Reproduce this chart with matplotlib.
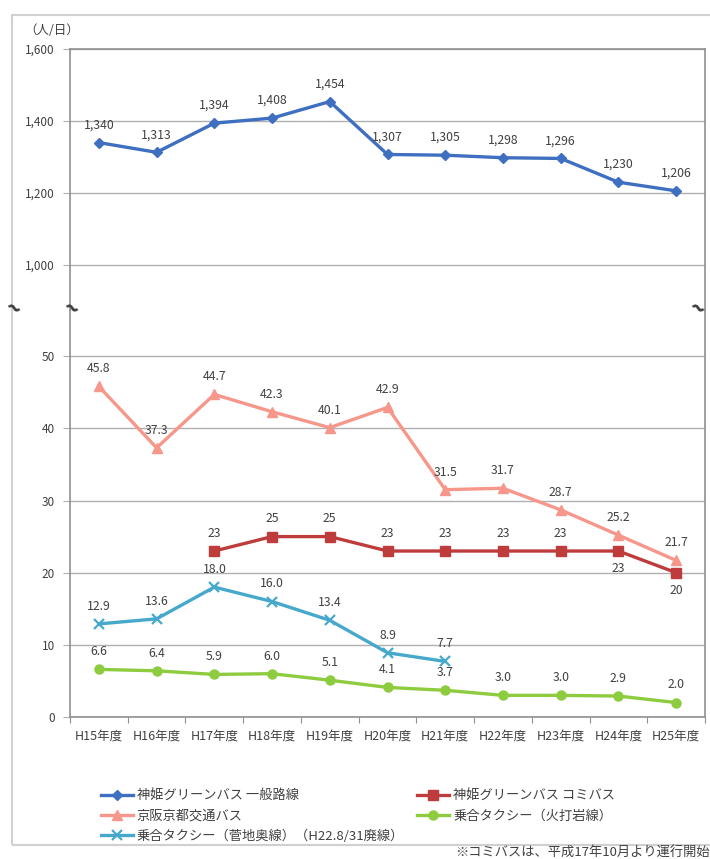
import matplotlib
matplotlib.use("Agg")
import matplotlib.pyplot as plt
from matplotlib.patches import Rectangle
import numpy as np

plt.rcParams['font.family'] = ['Noto Sans CJK JP', 'DejaVu Sans']

years = ["H15年度", "H16年度", "H17年度", "H18年度", "H19年度", "H20年度",
         "H21年度", "H22年度", "H23年度", "H24年度", "H25年度"]

# 神姫グリーンバス 一般路線
shinki_ippan = [1340, 1313, 1394, 1408, 1454, 1307, 1305, 1298, 1296, 1230, 1206]
# 京阪京都交通バス
keihan = [45.8, 37.3, 44.7, 42.3, 40.1, 42.9, 31.5, 31.7, 28.7, 25.2, 21.7]
# 神姫グリーンバス コミバス (H17〜)
shinki_comi = [None, None, 23, 25, 25, 23, 23, 23, 23, 23, 20]
# 乗合タクシー（菅地奥線）H21まで
taxi_sugachi = [12.9, 13.6, 18.0, 16.0, 13.4, 8.9, 7.7]
# 乗合タクシー（火打岩線）
taxi_hiuchi = [6.6, 6.4, 5.9, 6.0, 5.1, 4.1, 3.7, 3.0, 3.0, 2.9, 2.0]

labels = ["神姫グリーンバス 一般路線", "神姫グリーンバス コミバス", "京阪京都交通バス",
          "乗合タクシー（火打岩線）", "乗合タクシー（菅地奥線）（H22.8/31廃線）"]

c_blue = "#3f6fc0"
c_red = "#be3c3c"
c_salmon = "#f7968a"
c_green = "#8dcc3f"
c_cyan = "#46a9cc"
txt = "#404040"
grid_c = "#b0b0b0"
fs = 8.8

W, H = 710, 859
fig = plt.figure(figsize=(W / 100, H / 100), dpi=100)


def px_axes(x0, y0, x1, y1):
    return fig.add_axes([x0 / W, 1 - y1 / H, (x1 - x0) / W, (y1 - y0) / H])


left, right = 70, 705
brk = 310
ax_top = px_axes(left, 49, right, brk)
ax_bot = px_axes(left, brk, right, 717)

x = np.arange(len(years))

ax_top.set_ylim(875, 1600)
ax_bot.set_ylim(0, 56.4)
for ax in (ax_top, ax_bot):
    ax.set_xlim(-0.5, len(years) - 0.5)
    ax.set_facecolor("none")
    for s in ax.spines.values():
        s.set_color("#909090")
        s.set_linewidth(1.2)
    ax.tick_params(axis="y", length=5, pad=6, colors=grid_c, labelcolor=txt, labelsize=8.5)
    ax.grid(axis="y", color=grid_c, lw=1)
    ax.set_axisbelow(True)

ax_top.set_yticks([1000, 1200, 1400, 1600])
ax_top.set_yticklabels(["1,000", "1,200", "1,400", "1,600"])
ax_top.spines["bottom"].set_visible(False)
ax_top.tick_params(axis="x", bottom=False, labelbottom=False)

ax_bot.set_yticks([0, 10, 20, 30, 40, 50])
ax_bot.spines["top"].set_visible(False)
ax_bot.set_xticks(np.arange(-0.5, len(years), 1), minor=False)
ax_bot.set_xticklabels([])
ax_bot.set_xticks(x, minor=True)
ax_bot.set_xticklabels(years, minor=True)
ax_bot.tick_params(axis="x", which="major", length=4, colors="#909090")
ax_bot.tick_params(axis="x", which="minor", length=0, labelsize=9, labelcolor=txt, pad=9)

lw = 2.4
l1, = ax_top.plot(x, shinki_ippan, color=c_blue, lw=lw, marker="D", ms=5.5)
for xi, v in zip(x, shinki_ippan):
    ax_top.annotate(f"{v:,}", (xi, v), xytext=(0, 8), textcoords="offset points",
                    ha="center", va="bottom", fontsize=fs, color=txt)

l3, = ax_bot.plot(x, keihan, color=c_salmon, lw=lw, marker="^", ms=6.5)
for xi, v in zip(x, keihan):
    ax_bot.annotate(f"{v:.1f}", (xi, v), xytext=(0, 8), textcoords="offset points",
                    ha="center", va="bottom", fontsize=fs, color=txt)

comi = np.array([np.nan if v is None else v for v in shinki_comi], dtype=float)
l2, = ax_bot.plot(x, comi, color=c_red, lw=lw, marker="s", ms=6.5)
for i, (xi, v) in enumerate(zip(x, comi)):
    if np.isnan(v):
        continue
    below = i >= len(x) - 2
    ax_bot.annotate(f"{v:.0f}", (xi, v), xytext=(0, -8 if below else 8),
                    textcoords="offset points", ha="center",
                    va="top" if below else "bottom", fontsize=fs, color=txt)

xs = x[:len(taxi_sugachi)]
l5, = ax_bot.plot(xs, taxi_sugachi, color=c_cyan, lw=lw, marker="x", ms=6.5, mew=1.6)
for xi, v in zip(xs, taxi_sugachi):
    ax_bot.annotate(f"{v:.1f}", (xi, v), xytext=(0, 8), textcoords="offset points",
                    ha="center", va="bottom", fontsize=fs, color=txt)

l4, = ax_bot.plot(x, taxi_hiuchi, color=c_green, lw=lw, marker="o", ms=6.5)
for xi, v in zip(x, taxi_hiuchi):
    ax_bot.annotate(f"{v:.1f}", (xi, v), xytext=(0, 8), textcoords="offset points",
                    ha="center", va="bottom", fontsize=fs, color=txt)

# unit label
fig.text(24 / W, 1 - 30 / H, "（人/日）", fontsize=9, color=txt, va="center", ha="left")

# break marks
for bx in (12, 70, 696):
    fig.text(bx / W, 1 - brk / H, "~", fontsize=18, fontweight="bold", color="#404040",
             ha="center", va="center", rotation=-25)

# outer frame
fig.patches.append(Rectangle((12 / W, 1 - 845 / H), (W + 10 - 12) / W, (845 - 15) / H,
                             transform=fig.transFigure, fill=False,
                             edgecolor="#d0d0d0", lw=1.5, clip_on=False))

fig.legend([l1, l3, l5, l2, l4],
           [labels[0], labels[2], labels[4], labels[1], labels[3]],
           ncol=2, frameon=False, loc="upper left",
           bbox_to_anchor=(92 / W, 1 - 780 / H), fontsize=9.5,
           handlelength=2.4, columnspacing=1.0, labelspacing=0.55,
           handletextpad=0.3, labelcolor=txt, borderpad=0.2)

fig.text(455 / W, 1 - 852 / H, "※コミバスは、平成17年10月より運行開始", fontsize=9.5,
         color=txt, va="center", ha="left")

fig.savefig("out.png", dpi=100)
